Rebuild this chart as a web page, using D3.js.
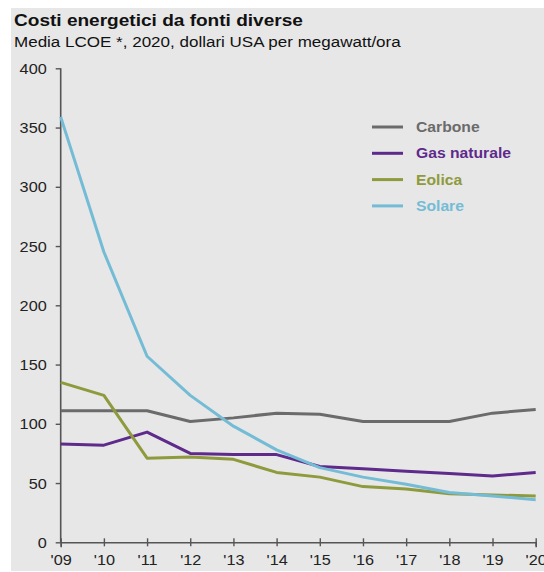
<!DOCTYPE html>
<html>
<head>
<meta charset="utf-8">
<script src="https://cdn.jsdelivr.net/npm/d3@7"></script>
<style>
  html, body { margin: 0; padding: 0; background: #ffffff; }
  svg { display: block; font-family: "Liberation Sans", Arial, sans-serif; }
</style>
</head>
<body>
<svg id="chart" width="544" height="572"></svg>
<script>
// Levelized cost of energy by source, USD per MWh
const years = ["'09", "'10", "'11", "'12", "'13", "'14", "'15", "'16", "'17", "'18", "'19", "'20"];
const carbone = [111, 111, 111, 102, 105, 109, 108, 102, 102, 102, 109, 112];
const gasNaturale = [83, 82, 93, 75, 74, 74, 64, 62, 60, 58, 56, 59];
const eolica = [135, 124, 71, 72, 70, 59, 55, 47, 45, 41, 40, 39];
const solare = [359, 245, 157, 124, 98, 78, 63, 55, 49, 42, 39, 36];
const yTicks = [0, 50, 100, 150, 200, 250, 300, 350, 400];
const seriesNames = ["Carbone", "Gas naturale", "Eolica", "Solare"];
const seriesColors = ["#6b6b6b", "#5e2a8c", "#8e9a3c", "#74bcd6"];

const series = [carbone, gasNaturale, eolica, solare].map((values, i) => ({
  name: seriesNames[i], color: seriesColors[i], values
}));

// text in this layout is set slightly wide
const STRETCH = 1.12;
function widen(sel) {
  sel.each(function () {
    const w = this.getComputedTextLength();
    d3.select(this).attr("textLength", w * STRETCH).attr("lengthAdjust", "spacingAndGlyphs");
  });
}

const svg = d3.select("#chart");

// panel background
svg.append("rect")
  .attr("x", 11).attr("y", 8)
  .attr("width", 533).attr("height", 563)
  .attr("fill", "#e7e7e7");

svg.append("text")
  .attr("x", 14).attr("y", 26)
  .attr("font-size", 17).attr("font-weight", "bold").attr("fill", "#111")
  .text("Costi energetici da fonti diverse")
  .call(widen);

svg.append("text")
  .attr("x", 14).attr("y", 47)
  .attr("font-size", 15.2).attr("fill", "#111")
  .text("Media LCOE *, 2020, dollari USA per megawatt/ora")
  .call(widen);

const x = d3.scalePoint().domain(years).range([60.7, 535.7]);
const y = d3.scaleLinear().domain([0, 400]).range([542.3, 68.3]);

// y axis
const yAxis = svg.append("g")
  .attr("transform", "translate(60.7,0)")
  .call(d3.axisLeft(y).tickValues(yTicks).tickSize(5).tickPadding(9).tickFormat(d3.format("d")));
// x axis
const xAxis = svg.append("g")
  .attr("transform", "translate(0,542.3)")
  .call(d3.axisBottom(x).tickSize(5).tickPadding(7));
xAxis.selectAll(".tick line").attr("y1", -4).attr("y2", 4);

[yAxis, xAxis].forEach(g => {
  g.select(".domain").attr("stroke", "#555").attr("stroke-width", 1.6);
  g.selectAll(".tick line").attr("stroke", "#555").attr("stroke-width", 1.4);
  g.selectAll(".tick text").attr("fill", "#222").attr("font-size", 14.5)
    .attr("font-family", "Liberation Sans, Arial, sans-serif");
});
yAxis.select(".domain").attr("d", "M0,542.3V68.3");
yAxis.selectAll(".tick text").attr("dy", "0.35em").call(widen);
xAxis.selectAll(".tick text").call(widen);

const line = d3.line()
  .x((d, i) => x(years[i]))
  .y(d => y(d));

svg.append("g").selectAll("path")
  .data(series)
  .join("path")
  .attr("d", d => line(d.values))
  .attr("fill", "none")
  .attr("stroke", d => d.color)
  .attr("stroke-width", 3)
  .attr("stroke-linejoin", "round");

// legend
const legend = svg.append("g").attr("transform", "translate(372,127)");
const items = legend.selectAll("g")
  .data(series)
  .join("g")
  .attr("transform", (d, i) => `translate(0,${i * 26.3})`);
items.append("line")
  .attr("x1", 0).attr("x2", 31)
  .attr("stroke", d => d.color).attr("stroke-width", 3);
items.append("text")
  .attr("x", 44).attr("dy", "0.36em")
  .attr("font-size", 14).attr("font-weight", "bold")
  .attr("fill", d => d.color)
  .text(d => d.name)
  .call(widen);
</script>
</body>
</html>
